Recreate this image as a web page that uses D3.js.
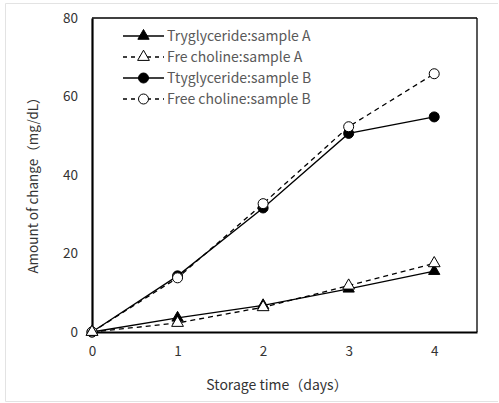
<!DOCTYPE html>
<html><head><meta charset="utf-8">
<script src="https://cdn.jsdelivr.net/npm/d3@7"></script>
<style>body{margin:0;background:#fff}svg{display:block}</style>
</head><body><svg id="c" width="499" height="403"></svg>
<script>
const days = [0, 1, 2, 3, 4];
const triglycerideA = [0, 3.6, 6.8, 11.0, 15.5];
const cholineA = [0, 2.3, 6.3, 11.8, 17.5];
const triglycerideB = [0, 14.3, 31.6, 50.6, 54.8];
const cholineB = [0, 13.8, 32.7, 52.3, 65.8];
const seriesNames = ["Tryglyceride:sample A", "Fre choline:sample A", "Ttyglyceride:sample B", "Free choline:sample B"];
const xTicks = [0, 1, 2, 3, 4];
const yTicks = [0, 20, 40, 60, 80];

const series = [
  {name: seriesNames[0], values: triglycerideA, shape: "tri", filled: true, dash: null},
  {name: seriesNames[1], values: cholineA, shape: "tri", filled: false, dash: "5,4"},
  {name: seriesNames[2], values: triglycerideB, shape: "circ", filled: true, dash: null},
  {name: seriesNames[3], values: cholineB, shape: "circ", filled: false, dash: "5,4"}
];

const svg = d3.select("#c");
const font = "'Noto Sans CJK JP','Noto Sans',sans-serif";
svg.append("path").attr("d", "M498,3.5 H5.5 V401.5 H498").attr("fill","none").attr("stroke","#e3e3e3").attr("stroke-width",1);

const L = 92, R = 477, T = 18, B = 332;
const x = d3.scaleLinear().domain([0, 4.5]).range([L, R]);
const y = d3.scaleLinear().domain([0, 80]).range([B, T]);

svg.append("line").attr("x1",L).attr("x2",R).attr("y1",T).attr("y2",T).attr("stroke","#000").attr("stroke-width",1.3);
svg.append("line").attr("x1",R).attr("x2",R).attr("y1",T).attr("y2",B).attr("stroke","#000").attr("stroke-width",1.3);

const gx = svg.append("g").attr("transform",`translate(0,${B})`)
  .call(d3.axisBottom(x).tickValues(xTicks).tickSize(0).tickPadding(14).tickFormat(d3.format("d")));
const gy = svg.append("g").attr("transform",`translate(${L},0)`)
  .call(d3.axisLeft(y).tickValues(yTicks).tickSize(0).tickPadding(14).tickFormat(d3.format("d")));
[gx, gy].forEach(g => {
  g.select(".domain").attr("stroke","#000").attr("stroke-width",2.2);
  g.selectAll("text").attr("font-family",font).attr("font-size",13.5).attr("fill","#333");
});

svg.append("text").attr("x",277).attr("y",390).attr("text-anchor","middle")
  .attr("font-family",font).attr("font-size",14).attr("fill","#333").text("Storage time（days）");
svg.append("text").attr("transform","translate(38,182) rotate(-90)").attr("text-anchor","middle")
  .attr("font-family",font).attr("font-size",13.5).attr("fill","#333").text("Amount of change（mg/dL）");

const line = d3.line().x((d,i)=>x(days[i])).y(d=>y(d));
const tri = d3.symbol().type(d3.symbolTriangle).size(55);
const triOpen = d3.symbol().type(d3.symbolTriangle).size(60);

function marker(g, s, cx, cy) {
  if (s.shape === "tri") {
    g.append("path").attr("d", s.filled ? tri() : triOpen()).attr("transform",`translate(${cx},${cy})`)
      .attr("fill", s.filled ? "#000" : "#fff").attr("stroke","#000").attr("stroke-width",1);
  } else {
    g.append("circle").attr("cx",cx).attr("cy",cy).attr("r",5)
      .attr("fill", s.filled ? "#000" : "#fff").attr("stroke","#000").attr("stroke-width",1);
  }
}

const order = [2, 3, 0, 1];
order.forEach(k => {
  const s = series[k];
  svg.append("path").datum(s.values).attr("d", line).attr("fill","none")
    .attr("stroke","#000").attr("stroke-width",1.3).attr("stroke-dasharray", s.dash);
});
order.forEach(k => {
  const s = series[k];
  const g = svg.append("g");
  s.values.forEach((v,i) => marker(g, s, x(days[i]), y(v)));
});

const leg = svg.append("g");
series.forEach((s,i) => {
  const cy = 36 + i*21;
  leg.append("line").attr("x1",123).attr("x2",164).attr("y1",cy).attr("y2",cy)
    .attr("stroke","#000").attr("stroke-width",1.3).attr("stroke-dasharray", s.dash ? "4,4" : null);
  marker(leg, s, 143.5, cy);
  leg.append("text").attr("x",167).attr("y",cy).attr("dy","0.35em")
    .attr("font-family",font).attr("font-size",14).attr("fill","#595959").text(s.name);
});
</script></body></html>
